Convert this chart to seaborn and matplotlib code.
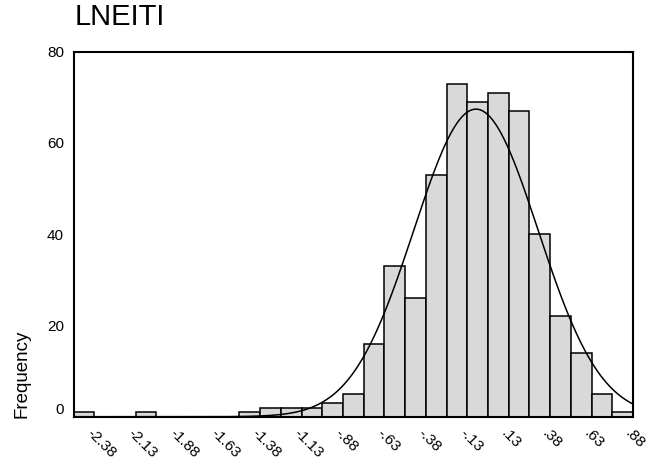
import numpy as np
import pandas as pd
import matplotlib
matplotlib.use("Agg")
import matplotlib.pyplot as plt
import seaborn as sns

# Histogram of LNEITI: bin centres start at -2.375, width 0.125
BIN_START = -2.375
BIN_WIDTH = 0.125
counts = [1, 0, 0, 1, 0, 0, 0, 0, 1, 2, 2, 2, 3, 5, 16,
          33, 26, 53, 73, 69, 71, 67, 40, 22, 14, 5, 1]

# fitted normal curve parameters
MEAN = -0.01
SD = 0.375

tick_values = [-2.375, -2.125, -1.875, -1.625, -1.375, -1.125, -0.875,
               -0.625, -0.375, -0.125, 0.125, 0.375, 0.625, 0.875]
tick_labels = ["-2.38", "-2.13", "-1.88", "-1.63", "-1.38", "-1.13", "-.88",
               "-.63", "-.38", "-.13", ".13", ".38", ".63", ".88"]
y_ticks = [0, 20, 40, 60, 80]

sns.set_style("white")
plt.rcParams["font.family"] = ["Liberation Sans", "DejaVu Sans"]
plt.rcParams["text.color"] = "black"

centers = BIN_START + BIN_WIDTH * np.arange(len(counts))
df = pd.DataFrame({"LNEITI": centers, "n": counts})
lo = centers[0] - BIN_WIDTH / 2
hi = centers[-1] + BIN_WIDTH / 2

fig = plt.figure(figsize=(6.62, 4.62), dpi=100)
ax = fig.add_axes([0.1112, 0.098, 0.845, 0.79])

sns.histplot(data=df, x="LNEITI", weights="n", binwidth=BIN_WIDTH,
             binrange=(lo, hi), color="#d9d9d9", edgecolor="black",
             alpha=1, linewidth=1.1, ax=ax)

xs = np.linspace(lo, hi, 400)
N = sum(counts)
ys = N * BIN_WIDTH / (SD * np.sqrt(2 * np.pi)) * np.exp(-0.5 * ((xs - MEAN) / SD) ** 2)
sns.lineplot(x=xs, y=ys, color="black", linewidth=1.1, ax=ax)

ax.set_xlim(lo, hi)
ax.set_ylim(0, 80)
ax.set_xticks(tick_values)
ax.set_xticklabels(tick_labels, rotation=-45, ha="left", va="bottom",
                   rotation_mode="anchor", fontsize=11)
ax.set_yticks(y_ticks)
ax.set_yticklabels([str(v) for v in y_ticks], fontsize=11)
ylabs = ax.get_yticklabels()
ylabs[0].set_va("bottom")
ax.tick_params(axis="both", direction="out", length=3, width=1.5,
               colors="black", pad=4)
ax.tick_params(axis="x", pad=11)
for s in ax.spines.values():
    s.set_visible(True)
    s.set_color("black")
    s.set_linewidth(1.5)
ax.set_xlabel("")
ax.set_ylabel("")

fig.text(0.112, 0.963, "LNEITI", fontsize=21, ha="left", va="center",
         color="black")
fig.text(0.033, 0.095, "Frequency", fontsize=13.5, rotation=90,
         ha="center", va="bottom", color="black")

fig.savefig("out.png", dpi=100)
